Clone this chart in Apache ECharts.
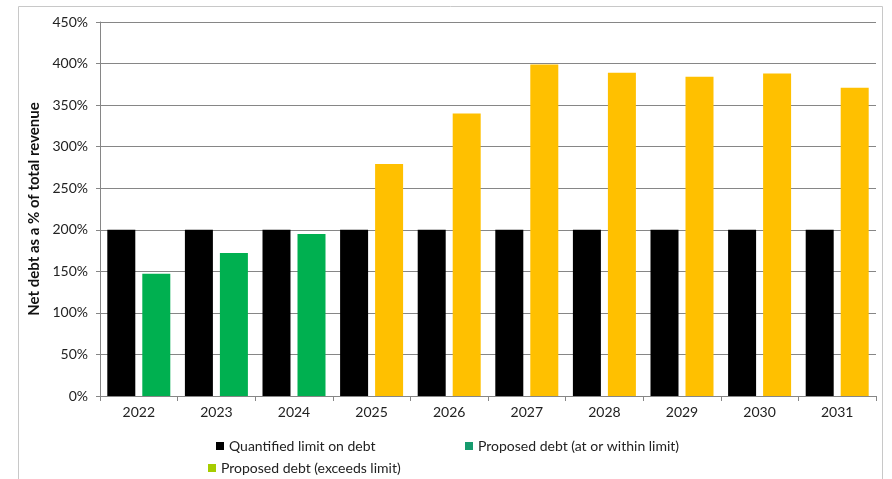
<!DOCTYPE html>
<html>
<head>
<meta charset="utf-8">
<script src="https://cdn.jsdelivr.net/npm/echarts@6/dist/echarts.min.js"></script>
<style>
  html, body { margin: 0; padding: 0; background: #fff; }
  #chart { width: 892px; height: 479px; }
</style>
</head>
<body>
<div id="chart"></div>
<script>
// Fiscal years on the category axis
const years = ['2022', '2023', '2024', '2025', '2026', '2027', '2028', '2029', '2030', '2031'];
// Quantified limit on net debt (% of total revenue)
const debtLimit = [200, 200, 200, 200, 200, 200, 200, 200, 200, 200];
// Proposed net debt at or within the limit
const debtWithin = [147, 172, 195, null, null, null, null, null, null, null];
// Proposed net debt exceeding the limit
const debtExceeds = [null, null, null, 279, 340, 399, 389, 384, 388, 371];
// Value axis ticks
const yTicks = [0, 50, 100, 150, 200, 250, 300, 350, 400, 450];

const FONT = 'Lato';
const chart = echarts.init(document.getElementById('chart'), null, { renderer: 'canvas' });

const legendText = { fontFamily: FONT, fontSize: 14, color: '#222' };

chart.setOption({
  backgroundColor: '#fff',
  animation: false,
  graphic: [{
    type: 'rect',
    shape: { x: 18.5, y: 6.5, width: 864, height: 480 },
    style: { fill: 'none', stroke: '#c8c8c8', lineWidth: 1 },
    silent: true
  }],
  grid: { left: 100, right: 16, top: 22, bottom: 83 },
  legend: [
    {
      left: 211, top: 434, itemWidth: 8, itemHeight: 8,
      icon: 'rect', textStyle: legendText, data: ['Quantified limit on debt']
    },
    {
      left: 460, top: 434, itemWidth: 8, itemHeight: 8,
      icon: 'rect', textStyle: legendText, data: ['Proposed debt (at or within limit)']
    },
    {
      left: 203, top: 456, itemWidth: 8, itemHeight: 8,
      icon: 'rect', textStyle: legendText, data: ['Proposed debt (exceeds limit)']
    }
  ],
  xAxis: {
    type: 'category',
    data: years,
    axisLine: { lineStyle: { color: '#868686', width: 1 } },
    axisTick: { show: true, length: 5, lineStyle: { color: '#868686' } },
    axisLabel: { fontFamily: FONT, fontSize: 14, color: '#222', margin: 9 }
  },
  yAxis: {
    type: 'value',
    min: yTicks[0],
    max: yTicks[yTicks.length - 1],
    interval: yTicks[1] - yTicks[0],
    name: 'Net debt as a % of total revenue',
    nameLocation: 'middle',
    nameGap: 56,
    nameTextStyle: { fontFamily: FONT, fontSize: 15, fontWeight: 'bold', color: '#111' },
    axisLine: { show: true, lineStyle: { color: '#868686', width: 1 } },
    axisTick: { show: true, length: 4, lineStyle: { color: '#868686' } },
    axisLabel: { fontFamily: FONT, fontSize: 14, color: '#222', margin: 12, formatter: '{value}%' },
    splitLine: { lineStyle: { color: '#868686', width: 1 } }
  },
  series: [
    {
      name: 'Quantified limit on debt',
      type: 'bar',
      data: debtLimit,
      barWidth: 28,
      barGap: '25%',
      itemStyle: { color: '#000000' }
    },
    {
      name: 'Proposed debt (at or within limit)',
      type: 'bar',
      stack: 'proposed',
      barWidth: 28,
      data: debtWithin.map(v => ({ value: v, itemStyle: { color: '#00b050' } })),
      itemStyle: { color: '#169b6e' }
    },
    {
      name: 'Proposed debt (exceeds limit)',
      type: 'bar',
      stack: 'proposed',
      barWidth: 28,
      data: debtExceeds.map(v => ({ value: v, itemStyle: { color: '#ffc000' } })),
      itemStyle: { color: '#a6cc00' }
    }
  ]
});
</script>
</body>
</html>
